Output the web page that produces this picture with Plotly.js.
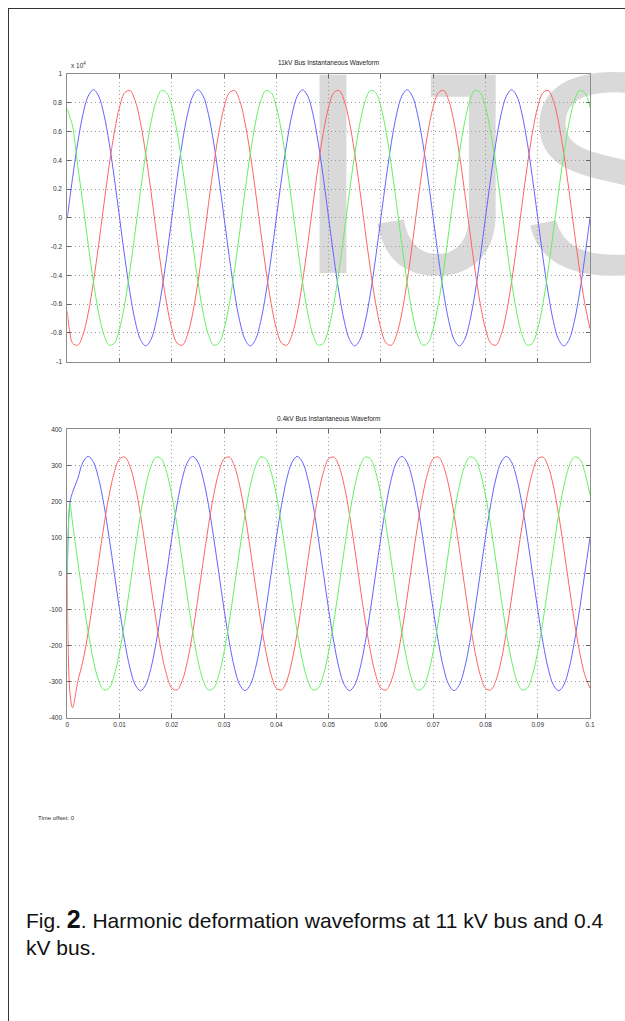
<!DOCTYPE html>
<html>
<head>
<meta charset="utf-8">
<script src="https://cdn.plot.ly/plotly-3.0.1.min.js"></script>
<style>
  html, body { margin: 0; padding: 0; background: #ffffff; width: 625px; height: 1021px; overflow: hidden; }
  #frame { position: absolute; left: 8px; top: 8px; width: 700px; height: 1100px; border: 1.5px solid #333; box-sizing: border-box; }
  #wm { position: absolute; left: 293px; top: 29px; font-family: 'Liberation Sans', Arial, sans-serif; font-size: 288px; line-height: 288px; color: #d9d9d9; white-space: nowrap; }
  #chart { position: absolute; left: 0; top: 0; width: 625px; height: 1021px; }
</style>
</head>
<body>
<div id="frame"></div>
<div id="wm">IJS</div>
<div id="chart"></div>
<script>
// Time samples (s)
const time = [
  0, 0.0005, 0.001, 0.002, 0.003, 0.004, 0.005, 0.006, 0.007, 0.008, 0.009,
  0.010, 0.011, 0.012, 0.013, 0.014, 0.015, 0.016, 0.017, 0.018, 0.019,
  0.020, 0.021, 0.022, 0.023, 0.024, 0.025, 0.026, 0.027, 0.028, 0.029,
  0.030, 0.031, 0.032, 0.033, 0.034, 0.035, 0.036, 0.037, 0.038, 0.039,
  0.040, 0.041, 0.042, 0.043, 0.044, 0.045, 0.046, 0.047, 0.048, 0.049,
  0.050, 0.051, 0.052, 0.053, 0.054, 0.055, 0.056, 0.057, 0.058, 0.059,
  0.060, 0.061, 0.062, 0.063, 0.064, 0.065, 0.066, 0.067, 0.068, 0.069,
  0.070, 0.071, 0.072, 0.073, 0.074, 0.075, 0.076, 0.077, 0.078, 0.079,
  0.080, 0.081, 0.082, 0.083, 0.084, 0.085, 0.086, 0.087, 0.088, 0.089,
  0.090, 0.091, 0.092, 0.093, 0.094, 0.095, 0.096, 0.097, 0.098, 0.099,
  0.100
];

// 11 kV bus instantaneous voltages (V)
const hvPhaseBlue = [
  0, 1390, 2750, 5231, 7200, 8465, 8900, 8465, 7200, 5231, 2750,
  0, -2750, -5231, -7200, -8465, -8900, -8465, -7200, -5231, -2750,
  0, 2750, 5231, 7200, 8465, 8900, 8465, 7200, 5231, 2750,
  0, -2750, -5231, -7200, -8465, -8900, -8465, -7200, -5231, -2750,
  0, 2750, 5231, 7200, 8465, 8900, 8465, 7200, 5231, 2750,
  0, -2750, -5231, -7200, -8465, -8900, -8465, -7200, -5231, -2750,
  0, 2750, 5231, 7200, 8465, 8900, 8465, 7200, 5231, 2750,
  0, -2750, -5231, -7200, -8465, -8900, -8465, -7200, -5231, -2750,
  0, 2750, 5231, 7200, 8465, 8900, 8465, 7200, 5231, 2750,
  0, -2750, -5231, -7200, -8465, -8900, -8465, -7200, -5231, -2750,
  0
];
const hvPhaseRed = [
  -6500, -8000, -8705, -8851, -8130, -6614, -4450, -1850, 930, 3620, 5955,
  7708, 8705, 8851, 8130, 6614, 4450, 1850, -930, -3620, -5955,
  -7708, -8705, -8851, -8130, -6614, -4450, -1850, 930, 3620, 5955,
  7708, 8705, 8851, 8130, 6614, 4450, 1850, -930, -3620, -5955,
  -7708, -8705, -8851, -8130, -6614, -4450, -1850, 930, 3620, 5955,
  7708, 8705, 8851, 8130, 6614, 4450, 1850, -930, -3620, -5955,
  -7708, -8705, -8851, -8130, -6614, -4450, -1850, 930, 3620, 5955,
  7708, 8705, 8851, 8130, 6614, 4450, 1850, -930, -3620, -5955,
  -7708, -8705, -8851, -8130, -6614, -4450, -1850, 930, 3620, 5955,
  7708, 8705, 8851, 8130, 6614, 4450, 1850, -930, -3620, -5955,
  -7708
];
const hvPhaseGreen = [
  7600, 7000, 6400, 3620, 930, -1850, -4450, -6614, -8130, -8851, -8705,
  -7708, -5955, -3620, -930, 1850, 4450, 6614, 8130, 8851, 8705,
  7708, 5955, 3620, 930, -1850, -4450, -6614, -8130, -8851, -8705,
  -7708, -5955, -3620, -930, 1850, 4450, 6614, 8130, 8851, 8705,
  7708, 5955, 3620, 930, -1850, -4450, -6614, -8130, -8851, -8705,
  -7708, -5955, -3620, -930, 1850, 4450, 6614, 8130, 8851, 8705,
  7708, 5955, 3620, 930, -1850, -4450, -6614, -8130, -8851, -8705,
  -7708, -5955, -3620, -930, 1850, 4450, 6614, 8130, 8851, 8705,
  7708, 5955, 3620, 930, -1850, -4450, -6614, -8130, -8851, -8705,
  -7708, -5955, -3620, -930, 1850, 4450, 6614, 8130, 8851, 8705,
  7708
];

// 0.4 kV bus instantaneous voltages (V)
const lvPhaseBlue = [
  0, 195, 225, 263, 309, 325, 309, 263, 191, 100, 0,
  -100, -191, -263, -309, -325, -309, -263, -191, -100, 0,
  100, 191, 263, 309, 325, 309, 263, 191, 100, 0,
  -100, -191, -263, -309, -325, -309, -263, -191, -100, 0,
  100, 191, 263, 309, 325, 309, 263, 191, 100, 0,
  -100, -191, -263, -309, -325, -309, -263, -191, -100, 0,
  100, 191, 263, 309, 325, 309, 263, 191, 100, 0,
  -100, -191, -263, -309, -325, -309, -263, -191, -100, 0,
  100, 191, 263, 309, 325, 309, 263, 191, 100, 0,
  -100, -191, -263, -309, -325, -309, -263, -191, -100, 0,
  100
];
const lvPhaseRed = [
  0, -330, -372, -300, -242, -163, -68, 34, 132, 217, 281,
  318, 323, 297, 242, 163, 68, -34, -132, -217, -281,
  -318, -323, -297, -242, -163, -68, 34, 132, 217, 281,
  318, 323, 297, 242, 163, 68, -34, -132, -217, -281,
  -318, -323, -297, -242, -163, -68, 34, 132, 217, 281,
  318, 323, 297, 242, 163, 68, -34, -132, -217, -281,
  -318, -323, -297, -242, -163, -68, 34, 132, 217, 281,
  318, 323, 297, 242, 163, 68, -34, -132, -217, -281,
  -318, -323, -297, -242, -163, -68, 34, 132, 217, 281,
  318, 323, 297, 242, 163, 68, -34, -132, -217, -281,
  -318
];
const lvPhaseGreen = [
  0, 195, 140, 34, -68, -163, -242, -297, -323, -318, -281,
  -217, -132, -34, 68, 163, 242, 297, 323, 318, 281,
  217, 132, 34, -68, -163, -242, -297, -323, -318, -281,
  -217, -132, -34, 68, 163, 242, 297, 323, 318, 281,
  217, 132, 34, -68, -163, -242, -297, -323, -318, -281,
  -217, -132, -34, 68, 163, 242, 297, 323, 318, 281,
  217, 132, 34, -68, -163, -242, -297, -323, -318, -281,
  -217, -132, -34, 68, 163, 242, 297, 323, 318, 281,
  217, 132, 34, -68, -163, -242, -297, -323, -318, -281,
  -217, -132, -34, 68, 163, 242, 297, 323, 318, 281,
  217
];

// Tick labels
const xTickVals = [0, 0.01, 0.02, 0.03, 0.04, 0.05, 0.06, 0.07, 0.08, 0.09, 0.1];
const xTickText = ['0', '0.01', '0.02', '0.03', '0.04', '0.05', '0.06', '0.07', '0.08', '0.09', '0.1'];
const hvTickVals = [-10000, -8000, -6000, -4000, -2000, 0, 2000, 4000, 6000, 8000, 10000];
const hvTickText = ['-1', '-0.8', '-0.6', '-0.4', '-0.2', '0', '0.2', '0.4', '0.6', '0.8', '1'];
const lvTickVals = [-400, -300, -200, -100, 0, 100, 200, 300, 400];
const lvTickText = ['-400', '-300', '-200', '-100', '0', '100', '200', '300', '400'];

const hvTitle = '11kV Bus Instantaneous Waveform';
const lvTitle = '0.4kV Bus Instantaneous Waveform';

const colBlue = '#6464ff', colRed = '#ff6464', colGreen = '#64f064';
function tr(y, color, xa, ya) {
  return { x: time, y: y, xaxis: xa, yaxis: ya, type: 'scatter', mode: 'lines',
           line: { color: color, width: 1, shape: 'spline', smoothing: 1 }, hoverinfo: 'skip' };
}
const data = [
  tr(hvPhaseBlue, colBlue, 'x', 'y'),
  tr(hvPhaseRed, colRed, 'x', 'y'),
  tr(hvPhaseGreen, colGreen, 'x', 'y'),
  tr(lvPhaseBlue, colBlue, 'x2', 'y2'),
  tr(lvPhaseRed, colRed, 'x2', 'y2'),
  tr(lvPhaseGreen, colGreen, 'x2', 'y2')
];

const W = 625, H = 1021;
const xDom = [67.3 / W, 590 / W];
const tickFont = { family: 'Liberation Sans, Arial, sans-serif', size: 6.5, color: '#333' };
const axCommon = {
  showline: true, linecolor: '#8c8c8c', linewidth: 1, mirror: 'ticks',
  ticks: 'inside', ticklen: 4, tickcolor: '#666', tickwidth: 1,
  showgrid: true, gridcolor: '#9a9a9a', griddash: '1px,3px', gridwidth: 1,
  zeroline: false, tickfont: tickFont, fixedrange: true
};
const layout = {
  width: W, height: H,
  margin: { l: 0, r: 0, t: 0, b: 0 },
  paper_bgcolor: 'rgba(0,0,0,0)', plot_bgcolor: 'rgba(0,0,0,0)',
  showlegend: false,
  xaxis: Object.assign({}, axCommon, { domain: xDom, anchor: 'y', range: [0, 0.1], tickvals: xTickVals, ticktext: xTickText, showticklabels: false }),
  yaxis: Object.assign({}, axCommon, { domain: [1 - 361.7 / H, 1 - 74 / H], anchor: 'x', range: [-10000, 10000], tickvals: hvTickVals, ticktext: hvTickText, ticklabelstandoff: 3 }),
  xaxis2: Object.assign({}, axCommon, { domain: xDom, anchor: 'y2', range: [0, 0.1], tickvals: xTickVals, ticktext: xTickText }),
  yaxis2: Object.assign({}, axCommon, { domain: [1 - 717.7 / H, 1 - 429.3 / H], anchor: 'x2', range: [-400, 400], tickvals: lvTickVals, ticktext: lvTickText, ticklabelstandoff: 3 }),
  annotations: [
    { text: hvTitle, xref: 'paper', yref: 'paper', x: 328.7 / W, y: 1 - 68 / H, xanchor: 'center', yanchor: 'bottom', showarrow: false,
      font: { family: 'Liberation Sans, Arial, sans-serif', size: 6.5, color: '#222' } },
    { text: lvTitle, xref: 'paper', yref: 'paper', x: 328.7 / W, y: 1 - 424 / H, xanchor: 'center', yanchor: 'bottom', showarrow: false,
      font: { family: 'Liberation Sans, Arial, sans-serif', size: 6.5, color: '#222' } },
    { text: 'x 10<sup>4</sup>', xref: 'paper', yref: 'paper', x: 69 / W, y: 1 - 71 / H, xanchor: 'left', yanchor: 'bottom', showarrow: false,
      font: { family: 'Liberation Sans, Arial, sans-serif', size: 6.5, color: '#333' } },
    { text: 'Time offset: 0', xref: 'paper', yref: 'paper', x: 36 / W, y: 1 - 813 / H, xanchor: 'left', yanchor: 'top', showarrow: false,
      font: { family: 'Liberation Sans, Arial, sans-serif', size: 6, color: '#333' } },
    { text: 'Fig. <span style="font-size:25px"><b>2</b></span>. Harmonic deformation waveforms at 11 kV bus and 0.4<br>kV bus.',
      xref: 'paper', yref: 'paper', x: 24 / W, y: 1 - 903 / H, xanchor: 'left', yanchor: 'top', align: 'left', showarrow: false,
      font: { family: 'Liberation Sans, Arial, sans-serif', size: 21, color: '#111' } }
  ]
};
Plotly.newPlot('chart', data, layout, { staticPlot: true, displayModeBar: false });
</script>
</body>
</html>
